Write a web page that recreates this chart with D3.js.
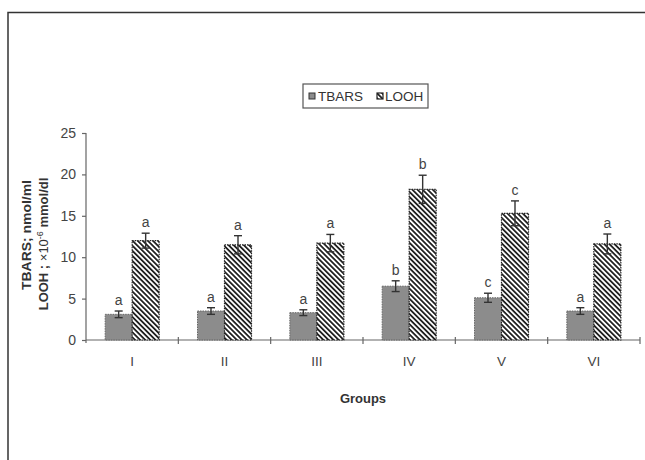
<!DOCTYPE html>
<html><head><meta charset="utf-8">
<script src="https://cdn.jsdelivr.net/npm/d3@7"></script>
<style>
html,body{margin:0;padding:0;background:#fff;}
svg{display:block;font-family:"Liberation Sans",Arial,sans-serif;}
</style></head>
<body>
<svg id="chart" width="645" height="460"></svg>
<script>
const groups = ["I","II","III","IV","V","VI"];
const tbars = [3.1, 3.5, 3.3, 6.5, 5.1, 3.5];
const tbarsErr = [0.4, 0.4, 0.35, 0.65, 0.55, 0.4];
const looh = [12.0, 11.5, 11.7, 18.2, 15.3, 11.6];
const loohErr = [0.9, 1.1, 1.05, 1.7, 1.5, 1.2];
const tbarsLetters = ["a","a","a","b","c","a"];
const loohLetters = ["a","a","a","b","c","a"];
const yTicks = [0, 5, 10, 15, 20, 25];
const seriesNames = ["TBARS", "LOOH"];

const svg = d3.select("#chart");
const defs = svg.append("defs");
const pat = defs.append("pattern").attr("id","hatch").attr("patternUnits","userSpaceOnUse")
  .attr("width",3.6).attr("height",3.6).attr("patternTransform","rotate(45)");
pat.append("rect").attr("width",3.6).attr("height",3.6).attr("fill","#fff");
pat.append("rect").attr("x",0).attr("y",0).attr("width",3.6).attr("height",1.8).attr("fill","#222");

// frame (top + left)
svg.append("path").attr("d","M8,460 V12.5 H645").attr("fill","none").attr("stroke","#333").attr("stroke-width",1.5);

const x = d3.scaleBand().domain(groups).range([86, 640]);
const y = d3.scaleLinear().domain([0, 25]).range([340, 133]);
const barW = 27;

// y axis
const yAxis = svg.append("g").attr("transform","translate(86,0)")
  .call(d3.axisLeft(y).tickValues(yTicks).tickSize(4).tickPadding(6));
yAxis.select(".domain").attr("stroke","#666").attr("stroke-width",1.2).attr("d","M-4,133.5H0V343");
yAxis.selectAll(".tick line").attr("stroke","#666").attr("stroke-width",1.2);
yAxis.selectAll(".tick text").attr("fill","#444").attr("font-size",14).attr("font-family","Liberation Sans, Arial, sans-serif");

// x axis
const xAxisG = svg.append("g");
xAxisG.append("line").attr("x1",86).attr("x2",640).attr("y1",340).attr("y2",340).attr("stroke","#666").attr("stroke-width",1.2);
const bounds = groups.map(g => x(g) + x.bandwidth());
xAxisG.selectAll("line.t").data(bounds).join("line").attr("class","t")
  .attr("x1",d=>d).attr("x2",d=>d).attr("y1",337).attr("y2",344).attr("stroke","#666").attr("stroke-width",1.2);
xAxisG.selectAll("text").data(groups).join("text")
  .attr("x",d=>x(d)+x.bandwidth()/2).attr("y",366).attr("text-anchor","middle")
  .attr("font-size",13.5).attr("fill","#444").text(d=>d);

// bars
const cx = g => x(g) + x.bandwidth()/2;
svg.append("g").selectAll("rect").data(groups).join("rect")
  .attr("x",g=>cx(g)-barW).attr("width",barW)
  .attr("y",(g,i)=>y(tbars[i])).attr("height",(g,i)=>y(0)-y(tbars[i]))
  .attr("fill","#8c8c8c").attr("stroke","#666").attr("stroke-width",1).attr("stroke-dasharray","1.5,1");
svg.append("g").selectAll("rect").data(groups).join("rect")
  .attr("x",g=>cx(g)).attr("width",barW)
  .attr("y",(g,i)=>y(looh[i])).attr("height",(g,i)=>y(0)-y(looh[i]))
  .attr("fill","url(#hatch)").attr("stroke","#222").attr("stroke-width",1.2).attr("stroke-dasharray","1.5,1");

// error bars
function errBars(vals, errs, offset){
  const g = svg.append("g").attr("stroke","#333").attr("stroke-width",1.4);
  groups.forEach((gr,i)=>{
    const xc = cx(gr) + offset;
    const yt = y(vals[i]+errs[i]), yb = y(vals[i]-errs[i]);
    g.append("line").attr("x1",xc).attr("x2",xc).attr("y1",yt).attr("y2",yb);
    g.append("line").attr("x1",xc-4).attr("x2",xc+4).attr("y1",yt).attr("y2",yt);
    g.append("line").attr("x1",xc-4).attr("x2",xc+4).attr("y1",yb).attr("y2",yb);
  });
}
errBars(tbars, tbarsErr, -barW/2);
errBars(looh, loohErr, barW/2);

// letters
function letters(vals, errs, labs, offset){
  svg.append("g").selectAll("text").data(groups).join("text")
    .attr("x",g=>cx(g)+offset).attr("y",(g,i)=>y(vals[i]+errs[i])-6)
    .attr("text-anchor","middle").attr("font-size",14).attr("fill","#444")
    .text((g,i)=>labs[i]);
}
letters(tbars, tbarsErr, tbarsLetters, -barW/2);
letters(looh, loohErr, loohLetters, barW/2);

// x title
svg.append("text").attr("x",363).attr("y",403).attr("text-anchor","middle")
  .attr("font-size",13).attr("font-weight","bold").attr("fill","#333").text("Groups");

// y title
const t1 = svg.append("text").attr("transform","translate(31,235) rotate(-90)")
  .attr("text-anchor","middle").attr("font-size",13).attr("font-weight","bold").attr("fill","#333")
  .attr("textLength",110).attr("lengthAdjust","spacingAndGlyphs");
t1.text("TBARS;  nmol/ml");
const t2 = svg.append("text").attr("transform","translate(48,244) rotate(-90)")
  .attr("text-anchor","middle").attr("font-size",13).attr("font-weight","bold").attr("fill","#333");
t2.append("tspan").text("LOOH ; ");
t2.append("tspan").attr("font-weight","normal").text("×10");
t2.append("tspan").attr("font-size",9).attr("dy",-5).attr("font-weight","normal").text("-6");
t2.append("tspan").attr("dy",5).text("  mmol/dl");

// legend
const lg = svg.append("g");
lg.append("rect").attr("x",303).attr("y",84).attr("width",125).attr("height",24)
  .attr("fill","#fff").attr("stroke","#555").attr("stroke-width",1.2);
lg.append("rect").attr("x",309).attr("y",93).attr("width",6).attr("height",6).attr("fill","#8c8c8c").attr("stroke","#333").attr("stroke-width",1);
lg.append("text").attr("x",318).attr("y",101).attr("font-size",13.5).attr("fill","#333").text(seriesNames[0]);
lg.append("rect").attr("x",377).attr("y",93).attr("width",6).attr("height",6).attr("fill","url(#hatch)").attr("stroke","#222").attr("stroke-width",1.2);
lg.append("text").attr("x",385).attr("y",101).attr("font-size",13.5).attr("fill","#333").text(seriesNames[1]);
</script>
</body></html>
